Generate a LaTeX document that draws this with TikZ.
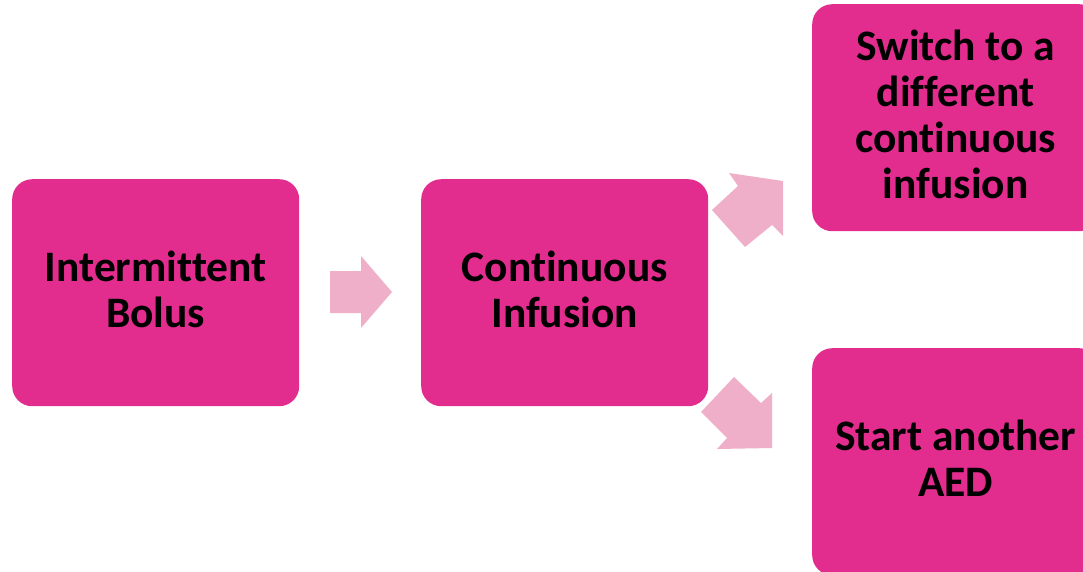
\documentclass[tikz,border=0pt]{standalone}
\usepackage{fontspec}
\setmainfont[Ligatures=NoCommon]{Carlito}
\definecolor{boxpink}{HTML}{E22D8F}
\definecolor{arrowpink}{HTML}{F0AFC8}
\begin{document}
\begin{tikzpicture}[x=1pt,y=-1pt,
  stagebox/.style={fill=boxpink, draw=none, rounded corners=20pt, anchor=north west,
    minimum width=287pt, minimum height=227pt, inner sep=0pt},
  boxtext/.style={align=center, inner sep=0pt, yshift=3pt,
    font=\fontsize{43.5pt}{46pt}\selectfont\bfseries, text=black},
  blockarrow/.style={fill=arrowpink, draw=none}]
\useasboundingbox (0,0) rectangle (1083,571);
\clip (0,0) rectangle (1083,571);
\node[stagebox] (bolus) at (12,179) {};
\node[stagebox] (cont) at (421,179) {};
\node[stagebox] (switch) at (812,4) {};
\node[stagebox] (aed) at (812,348) {};
\node[boxtext] (bolust) at (bolus.center) {Intermittent\\Bolus};
\node[boxtext] (contt) at (cont.center) {Continuous\\Infusion};
\node[boxtext] (switcht) at (switch.center) {Switch to a\\different\\continuous\\infusion};
\node[boxtext] (aedt) at (aed.center) {Start another\\AED};
% arrows
\fill[blockarrow] (330,271) -- (361,271) -- (361,256) -- (392,292) -- (361,328) -- (361,313) -- (330,313) -- cycle;
\fill[blockarrow] (729,173) -- (783,181) -- (783,236) -- (772,225) -- (745,247) -- (712,210) -- (738,186) -- cycle;
\fill[blockarrow] (734,377) -- (761,403) -- (772,393) -- (772,448) -- (717,449) -- (727,438) -- (701,412) -- cycle;
\end{tikzpicture}
\end{document}
